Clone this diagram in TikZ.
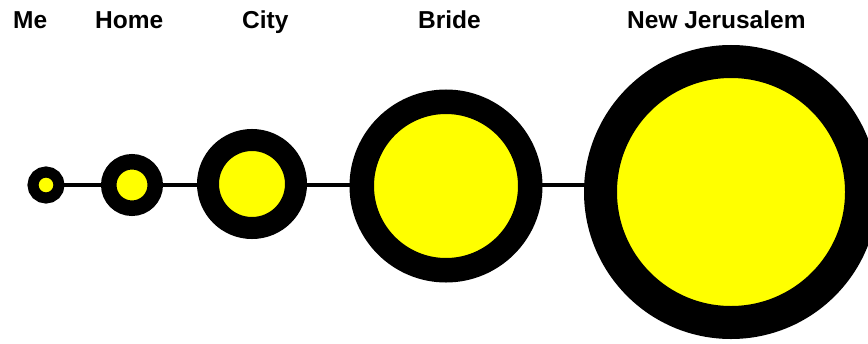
\documentclass[tikz,border=0pt]{standalone}
\usepackage{fontspec}
\setmainfont{Liberation Sans}
\usetikzlibrary{backgrounds}
\definecolor{pureyellow}{RGB}{255,255,0}
\tikzset{
  ring/.style={circle, draw=black, fill=pureyellow, inner sep=0pt, outer sep=0pt},
  lbl/.style={anchor=base west, inner sep=0pt, font=\fontsize{24.5bp}{28bp}\selectfont\bfseries},
  link/.style={line width=4bp, draw=black}
}
\begin{document}
\begin{tikzpicture}[x=1bp, y=1bp]
\useasboundingbox (0,0) rectangle (868,343);
% circles (y measured from bottom)
\node[ring, minimum size=26bp, line width=11bp] (me) at (46,158) {};
\node[ring, minimum size=46.5bp, line width=15.5bp] (home) at (132,158) {};
\node[ring, minimum size=88bp, line width=22bp] (city) at (252,159) {};
\node[ring, minimum size=168.5bp, line width=24.5bp] (bride) at (446,157) {};
\node[ring, minimum size=261bp, line width=33bp] (nj) at (731,151) {};
% connector
\begin{scope}[on background layer]
\draw[link] (me.west) -- (me.west -| nj.west);
\end{scope}
% labels
\node[lbl] (tme) at (13,315) {Me};
\node[lbl] (thome) at (95,315) {Home};
\node[lbl] (tcity) at (242,315) {City};
\node[lbl] (tbride) at (418,315) {Bride};
\node[lbl] (tnj) at (627,315) {New Jerusalem};
\end{tikzpicture}
\end{document}
